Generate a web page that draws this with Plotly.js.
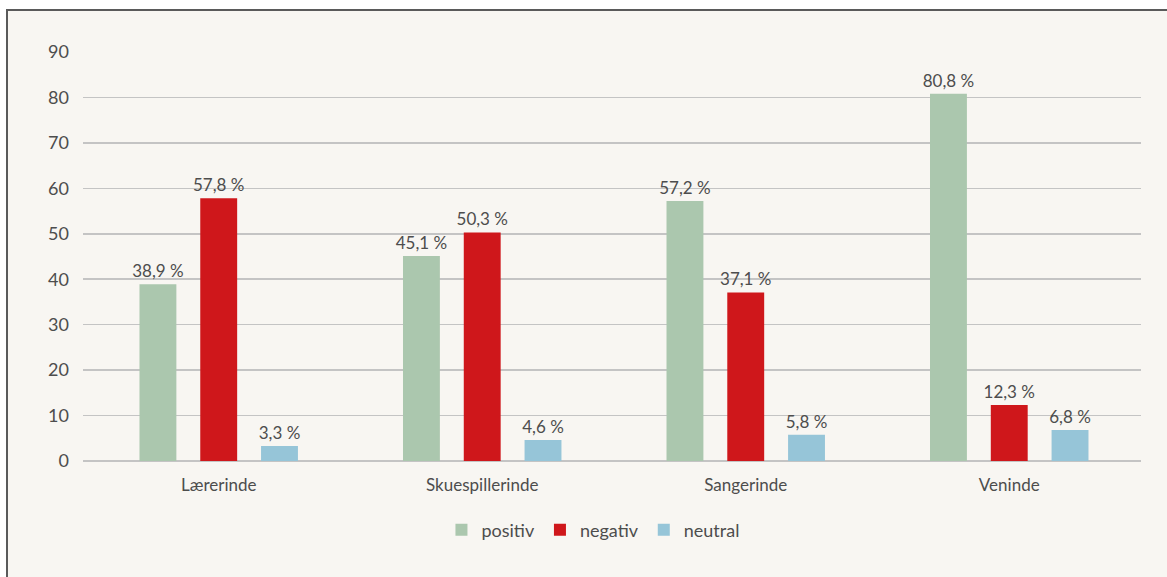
<!DOCTYPE html>
<html>
<head>
<meta charset="utf-8">
<script src="https://cdn.plot.ly/plotly-3.0.1.min.js"></script>
<style>
  html, body { margin: 0; padding: 0; background: #ffffff; width: 1167px; height: 577px; overflow: hidden; }
  #chart { position: absolute; left: 6px; top: 9px; width: 1161px; height: 568px;
           border-top: 2px solid #5a5a5a; border-left: 2px solid #5a5a5a; box-sizing: border-box; background: #f8f6f2; }
</style>
</head>
<body>
<div id="chart"></div>
<script>
const categories = ["Lærerinde", "Skuespillerinde", "Sangerinde", "Veninde"];
const positiv = [38.9, 45.1, 57.2, 80.8];
const negativ = [57.8, 50.3, 37.1, 12.3];
const neutral = [3.3, 4.6, 5.8, 6.8];
const seriesNames = ["positiv", "negativ", "neutral"];
const yTicks = [0, 10, 20, 30, 40, 50, 60, 70, 80, 90];

const colors = ["#abc7ae", "#cf171b", "#96c5d8"];
const fmt = v => v.toFixed(1).replace('.', ',') + ' %';
const FONT = 'Lato, "Open Sans", sans-serif';

const traces = [positiv, negativ, neutral].map((vals, i) => ({
  type: 'bar',
  name: seriesNames[i],
  x: categories,
  y: vals,
  text: vals.map(fmt),
  textposition: 'outside',
  constraintext: 'none',
  cliponaxis: false,
  textfont: { family: FONT, size: 17, color: '#4d4d4d' },
  marker: { color: colors[i] },
  hoverinfo: 'skip'
}));

const layout = {
  width: 1159,
  height: 566,
  paper_bgcolor: '#f8f6f2',
  plot_bgcolor: '#f8f6f2',
  margin: { l: 75, r: 26, t: 41, b: 116 },
  barmode: 'group',
  bargap: 0.308,
  bargroupgap: 0.393,
  uniformtext: { mode: false },
  font: { family: FONT, size: 17, color: '#4d4d4d' },
  showlegend: true,
  legend: {
    orientation: 'h',
    x: 0.482, xanchor: 'center',
    y: -0.169, yanchor: 'middle',
    font: { family: FONT, size: 18, color: '#4d4d4d' },
    bgcolor: 'rgba(0,0,0,0)',
    itemwidth: 30
  },
  xaxis: {
    type: 'category',
    range: [-0.515, 3.5],
    showgrid: false,
    showline: false,
    ticks: '',
    ticklabelstandoff: 12,
    tickfont: { family: FONT, size: 17, color: '#4d4d4d' },
    fixedrange: true
  },
  yaxis: {
    range: [0, 90],
    tickvals: yTicks,
    ticktext: yTicks.map(String),
    showgrid: true,
    gridcolor: '#c4c4c4',
    gridwidth: 1.5,
    zeroline: true,
    zerolinecolor: '#c4c4c4',
    zerolinewidth: 1.5,
    showline: false,
    ticks: '',
    ticklabelstandoff: 13,
    tickfont: { family: FONT, size: 18, color: '#4d4d4d' },
    fixedrange: true
  }
};

Plotly.newPlot('chart', traces, layout, { displayModeBar: false, staticPlot: true });
</script>
</body>
</html>
